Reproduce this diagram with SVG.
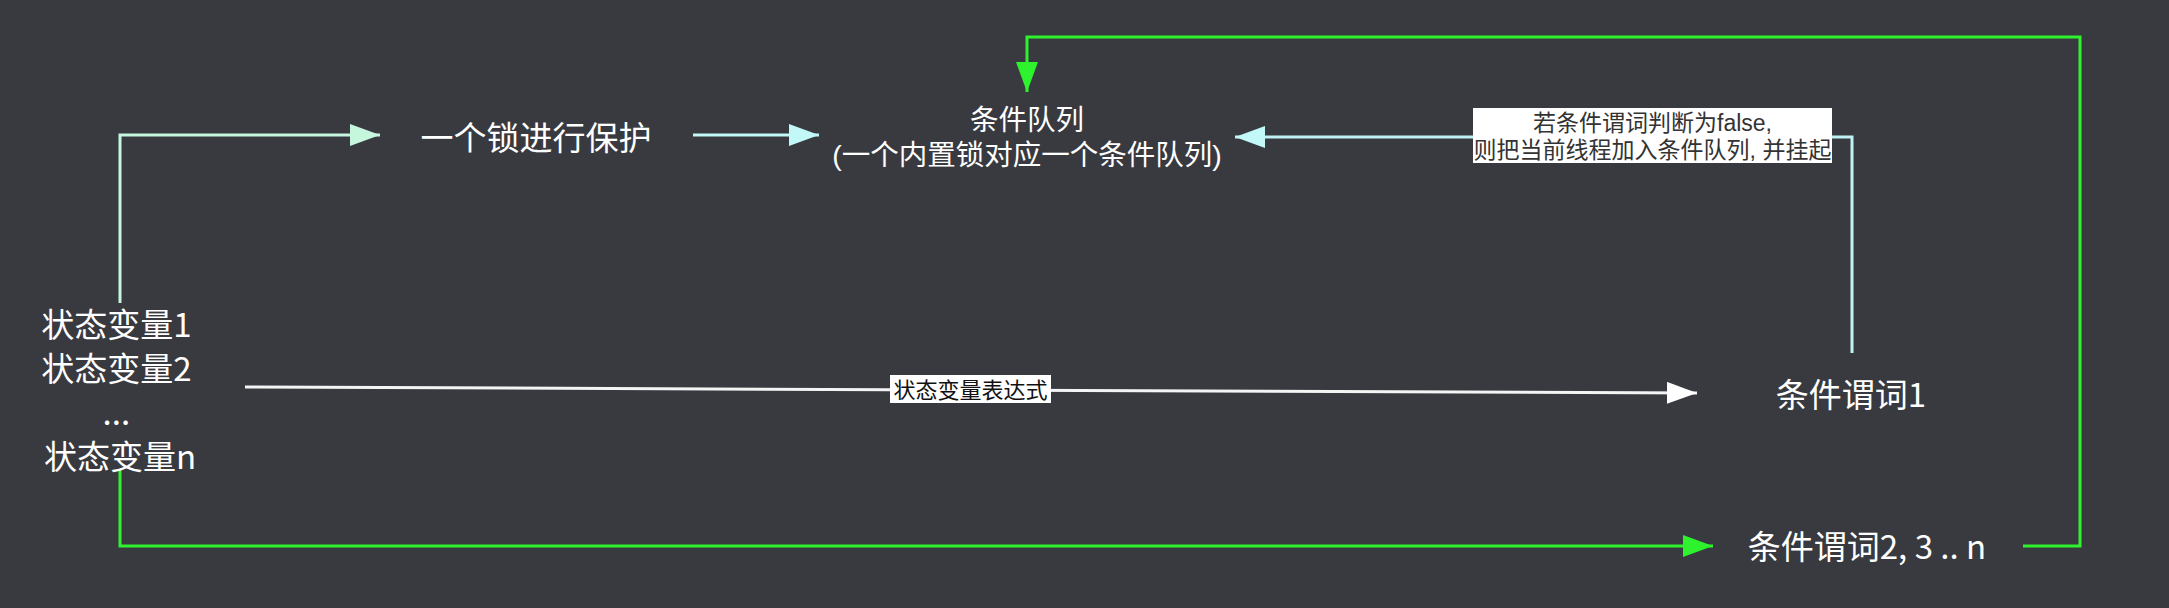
<svg xmlns="http://www.w3.org/2000/svg" width="2169" height="608" viewBox="0 0 2169 608">
<style>
  .t { font-family: "Noto Sans CJK SC", "Liberation Sans", sans-serif; fill: #ffffff; text-anchor: middle; }
  .t2 { font-family: "Liberation Sans", "Noto Sans CJK SC", sans-serif; fill: #ffffff; text-anchor: middle; }
  .lbl { font-family: "Liberation Sans", "Noto Sans CJK SC", sans-serif; text-anchor: middle; font-size: 23px; }
  .c { fill: none; stroke-width: 3; }
</style>
<defs>
  <marker id="aMint" viewBox="0 0 30 22" markerWidth="30" markerHeight="22" refX="30" refY="11" orient="auto" markerUnits="userSpaceOnUse"><path d="M0,0 L30,11 L0,22 z" fill="#c6f6de"/></marker>
  <marker id="aCyan" viewBox="0 0 30 22" markerWidth="30" markerHeight="22" refX="30" refY="11" orient="auto" markerUnits="userSpaceOnUse"><path d="M0,0 L30,11 L0,22 z" fill="#c2f8f8"/></marker>
  <marker id="aWhite" viewBox="0 0 30 22" markerWidth="30" markerHeight="22" refX="30" refY="11" orient="auto" markerUnits="userSpaceOnUse"><path d="M0,0 L30,11 L0,22 z" fill="#ffffff"/></marker>
  <marker id="aGreen" viewBox="0 0 30 22" markerWidth="30" markerHeight="22" refX="30" refY="11" orient="auto" markerUnits="userSpaceOnUse"><path d="M0,0 L30,11 L0,22 z" fill="#2ef22e"/></marker>
</defs>
<rect x="0" y="0" width="2169" height="608" fill="#393a40"/>

<g id="connectors">
  <path class="c" d="M120,303 V135 H380" stroke="#c6f6de" marker-end="url(#aMint)"/>
  <path class="c" d="M693,135 H819" stroke="#c2f8f8" marker-end="url(#aCyan)"/>
  <path class="c" d="M1852,353 V137 H1235" stroke="#bff2f4" marker-end="url(#aCyan)"/>
  <path class="c" d="M245,387 L1697,393" stroke="#f4f4f4" marker-end="url(#aWhite)"/>
  <path class="c" d="M120,470 V546 H1713" stroke="#2ef22e" stroke-width="3.5" marker-end="url(#aGreen)"/>
  <path class="c" d="M2023,546 H2080 V37 H1027 V92" stroke="#2ef22e" stroke-width="3.5" marker-end="url(#aGreen)"/>
  <g id="label-false">
    <rect x="1473" y="108" width="359" height="55" fill="#ffffff"/>
    <text class="lbl" fill="#333333" x="1652.5" y="131"><tspan x="1652.5" y="131">若条件谓词判断为false,</tspan><tspan x="1652.5" y="158">则把当前线程加入条件队列, 并挂起</tspan></text>
  </g>
  <g id="label-expr">
    <rect x="890" y="375" width="161" height="28" fill="#ffffff"/>
    <text class="lbl" fill="#111111" x="970.5" y="398" style="font-size:22px">状态变量表达式</text>
  </g>
</g>

<g id="node-vars">
  <text class="t" font-size="33" x="120" y="337">
    <tspan x="120" dy="0">状态变量1</tspan>
    <tspan x="120" dy="44">状态变量2</tspan>
    <tspan x="120" dy="44">...</tspan>
    <tspan x="120" dy="44">状态变量n</tspan>
  </text>
</g>
<g id="node-lock">
  <text class="t" font-size="33" x="536" y="150">一个锁进行保护</text>
</g>
<g id="node-queue">
  <text class="t2" font-size="28.5" x="1027" y="130"><tspan x="1027" y="130">条件队列</tspan><tspan x="1027" y="165">(一个内置锁对应一个条件队列)</tspan></text>
</g>
<g id="node-pred1">
  <text class="t" font-size="33" x="1851" y="407">条件谓词1</text>
</g>
<g id="node-pred2">
  <text class="t" font-size="33" x="1867" y="559">条件谓词2, 3 .. n</text>
</g>
</svg>
